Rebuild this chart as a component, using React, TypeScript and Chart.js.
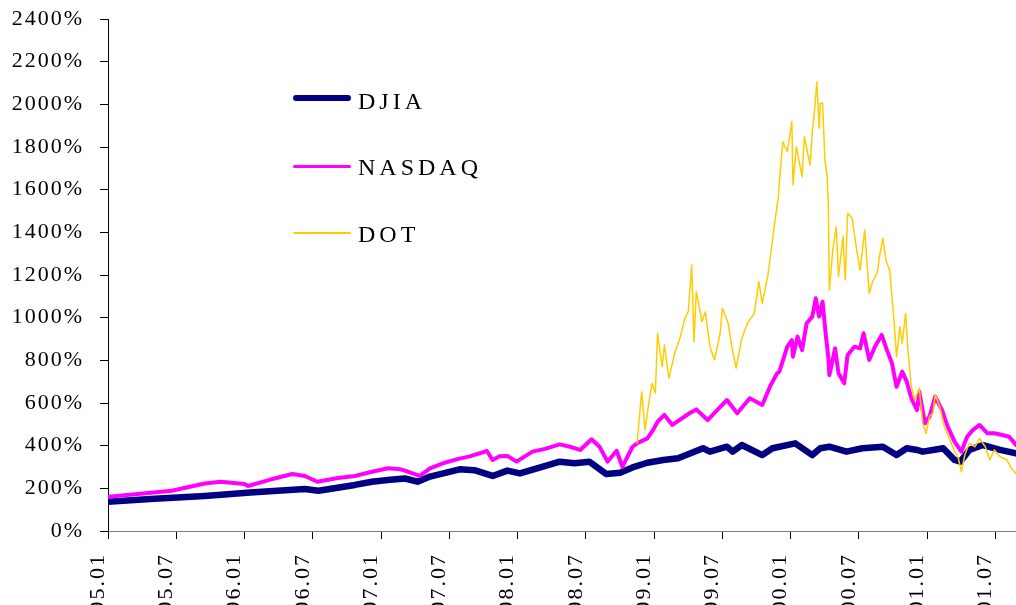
import React, { useEffect, useRef } from 'react';
import { Chart, registerables } from 'chart.js';

Chart.register(...registerables);

// x = months since January 1995
const tickMonths = [0, 6, 12, 18, 24, 30, 36, 42, 48, 54, 60, 66, 72, 78];
const tickLabels = ['95.01', '95.07', '96.01', '96.07', '97.01', '97.07', '98.01', '98.07', '99.01', '99.07', '00.01', '00.07', '01.01', '01.07'];
const xMax = 79.8;

const yMin = 0;
const yMax = 2400;
const yStep = 200;

const seriesNames = ['DJIA', 'NASDAQ', 'DOT'];
const seriesColors = ['#000080', '#FF00FF', '#FFCC00'];
const seriesWidths = [6.5, 4, 1.5];
const legendWidths = [6, 3, 2];

const djiaMonths = [0, 3.7, 8.5, 12.5, 17.3, 18.5, 21.7, 23.2, 24.8, 26.1, 27.2, 28.3, 30.9, 32.2, 33.8, 35.1, 36.2, 38, 39.7, 41, 42.3, 43.8, 45, 46.1, 47.4, 48.8, 50.1, 52.3, 52.9, 54.4, 54.9, 55.7, 57.5, 58.4, 60.4, 61.9, 62.6, 63.4, 64.9, 66.3, 68.1, 69.3, 70.2, 71.1, 71.6, 72.5, 73.4, 74.4, 74.9, 75.7, 76.9, 78.4, 79.8];
const djiaValues = [137, 150, 164, 180, 197, 189, 216, 231, 240, 246, 231, 255, 289, 285, 258, 283, 270, 298, 325, 318, 325, 267, 273, 298, 320, 333, 341, 388, 372, 395, 372, 403, 356, 388, 411, 356, 388, 395, 372, 388, 395, 356, 388, 380, 372, 380, 388, 333, 325, 380, 403, 380, 364];

const nasdaqMonths = [0, 1.9, 5.6, 8.5, 9.9, 12, 12.3, 14.2, 16.2, 17.3, 18.4, 20.2, 21.7, 23.2, 24.6, 25.7, 26.1, 27.4, 28.3, 29.6, 30.7, 31.8, 33.3, 33.8, 34.4, 35.1, 35.9, 37.3, 38.4, 39.7, 40.6, 41.5, 42.5, 43.2, 43.9, 44.7, 45.2, 46.1, 46.5, 47.4, 47.9, 48.3, 48.9, 49.6, 51.1, 51.7, 52.7, 53.6, 54.4, 55.3, 56.4, 57.5, 58.2, 58.8, 59, 59.7, 60.1, 60.2, 60.6, 61, 61.4, 61.9, 62.2, 62.5, 62.8, 63.1, 63.3, 63.4, 63.9, 64.2, 64.7, 65, 65.6, 66.1, 66.4, 66.9, 67.4, 68, 68.4, 68.9, 69.3, 69.8, 70.2, 70.6, 71.1, 71.3, 71.8, 72.2, 72.7, 73.3, 73.8, 74.4, 75, 75.5, 76, 76.6, 77.3, 77.9, 78.6, 79.2, 79.8];
const nasdaqValues = [161, 170, 189, 223, 231, 220, 211, 240, 267, 258, 231, 248, 258, 278, 294, 289, 283, 258, 294, 320, 337, 350, 375, 333, 350, 352, 325, 372, 385, 406, 395, 380, 430, 395, 325, 376, 301, 395, 411, 434, 473, 512, 544, 497, 552, 570, 520, 570, 614, 552, 622, 591, 680, 739, 747, 864, 895, 817, 911, 848, 974, 1005, 1091, 1005, 1075, 911, 817, 731, 856, 739, 692, 825, 864, 856, 927, 802, 864, 919, 856, 786, 676, 747, 700, 622, 567, 653, 505, 536, 630, 567, 489, 419, 372, 442, 473, 497, 458, 458, 450, 442, 403];

const dotMonths = [46.5, 46.9, 47.2, 47.4, 47.8, 48.1, 48.3, 48.7, 48.9, 49.3, 49.8, 50.3, 50.7, 51, 51.3, 51.5, 51.7, 52.2, 52.5, 52.9, 53.3, 53.8, 54, 54.5, 54.8, 55.2, 55.7, 56.2, 56.8, 57.2, 57.5, 58, 58.3, 58.6, 58.9, 59.3, 59.7, 60.1, 60.2, 60.5, 61, 61.2, 61.7, 61.9, 62.1, 62.3, 62.5, 62.6, 62.8, 63, 63.2, 63.3, 63.4, 63.7, 64, 64.2, 64.6, 64.8, 65, 65.4, 65.8, 66.1, 66.5, 66.9, 67.2, 67.6, 67.8, 68.1, 68.4, 68.7, 69.1, 69.3, 69.6, 69.8, 70.1, 70.3, 70.6, 70.9, 71.3, 71.6, 71.9, 72.2, 72.5, 72.7, 73.1, 73.5, 74, 74.4, 74.7, 75, 75.3, 75.7, 76.2, 76.6, 77.1, 77.5, 77.9, 78.4, 79, 79.4, 79.8];
const dotValues = [412, 653, 473, 552, 692, 647, 927, 770, 872, 716, 833, 911, 997, 1028, 1247, 887, 1122, 981, 1028, 864, 802, 927, 1044, 974, 872, 763, 903, 974, 1020, 1169, 1067, 1200, 1322, 1450, 1560, 1825, 1778, 1919, 1622, 1802, 1661, 1848, 1716, 1872, 1973, 2106, 1888, 2005, 2005, 1747, 1661, 1536, 1130, 1317, 1426, 1192, 1380, 1177, 1489, 1466, 1317, 1223, 1411, 1114, 1169, 1209, 1286, 1372, 1262, 1223, 974, 817, 958, 880, 1020, 848, 676, 614, 669, 505, 458, 536, 552, 638, 583, 489, 427, 372, 348, 278, 356, 411, 395, 434, 395, 333, 380, 348, 333, 294, 270];

const seriesMonths = [djiaMonths, nasdaqMonths, dotMonths];
const seriesValues = [djiaValues, nasdaqValues, dotValues];

const FONT = "'Liberation Serif', 'Times New Roman', Times, serif";

const spacingPlugin = {
  id: 'letterSpacing',
  beforeDraw(chart: any) {
    chart.ctx.letterSpacing = '2px';
  },
};

export default function App() {
  const ref = useRef<HTMLCanvasElement>(null);

  useEffect(() => {
    const canvas = ref.current;
    if (!canvas) return;
    const datasets = seriesNames.map((name, i) => ({
      label: name,
      data: seriesMonths[i].map((m, j) => ({ x: m, y: seriesValues[i][j] })),
      borderColor: seriesColors[i],
      backgroundColor: seriesColors[i],
      borderWidth: seriesWidths[i],
      pointRadius: 0,
      pointHoverRadius: 0,
      tension: 0,
      fill: false,
      borderJoinStyle: 'round' as const,
      borderCapStyle: 'round' as const,
      order: seriesNames.length - i,
    }));
    const chart = new Chart(canvas, {
      type: 'line',
      data: { datasets },
      plugins: [spacingPlugin],
      options: {
        animation: false,
        responsive: false,
        devicePixelRatio: 1,
        layout: { padding: { top: 19, right: 0, bottom: 0, left: 0 } },
        plugins: {
          legend: { display: false },
          tooltip: { enabled: false },
        },
        font: { family: FONT, size: 22 },
        scales: {
          x: {
            type: 'linear',
            min: 0,
            max: xMax,
            afterBuildTicks: (scale: any) => {
              scale.ticks = tickMonths.map((v) => ({ value: v }));
            },
            afterFit: (scale: any) => {
              scale.height = 74;
              scale.paddingLeft = 0;
              scale.paddingRight = 0;
              scale.paddingTop = 0;
              scale.paddingBottom = 0;
            },
            grid: {
              drawOnChartArea: false,
              drawTicks: true,
              tickLength: 8,
              color: '#000000',
            },
            border: { display: true, color: '#808080', width: 1 },
            ticks: {
              autoSkip: false,
              maxRotation: 90,
              minRotation: 90,
              padding: 14,
              labelOffset: -10,
              color: '#000000',
              font: { family: FONT, size: 22 },
              callback: (value: any) => {
                const idx = tickMonths.indexOf(Number(value));
                return idx >= 0 ? tickLabels[idx] : '';
              },
            },
          },
          y: {
            type: 'linear',
            min: yMin,
            max: yMax,
            afterFit: (scale: any) => {
              scale.width = 108;
              scale.paddingTop = 0;
              scale.paddingBottom = 0;
              scale.paddingLeft = 0;
              scale.paddingRight = 0;
            },
            grid: {
              drawOnChartArea: false,
              drawTicks: true,
              tickLength: 8,
              color: '#000000',
            },
            border: { display: true, color: '#000000', width: 1 },
            ticks: {
              stepSize: yStep,
              padding: 16,
              color: '#000000',
              font: { family: FONT, size: 22 },
              callback: (value: any) => `${value}%`,
            },
          },
        },
      },
    });
    return () => chart.destroy();
  }, []);

  const legendTops = [89, 155, 222];
  const lineCenters = [98, 166, 233];

  return (
    <div style={{ position: 'fixed', left: 0, top: 0, width: 1016, height: 605, background: '#ffffff', overflow: 'hidden' }}>
      <canvas ref={ref} width={1016} height={605} style={{ display: 'block', width: 1016, height: 605 }} />
      {seriesNames.map((name, i) => (
        <React.Fragment key={name}>
          <div
            style={{
              position: 'absolute',
              left: 293,
              width: 58,
              top: lineCenters[i] - legendWidths[i] / 2,
              height: legendWidths[i],
              background: seriesColors[i],
              borderRadius: legendWidths[i] / 2,
            }}
          />
          <div
            style={{
              position: 'absolute',
              left: 358,
              top: legendTops[i],
              fontFamily: FONT,
              fontSize: 24,
              lineHeight: '24px',
              letterSpacing: '4px',
              color: '#000000',
              whiteSpace: 'nowrap',
            }}
          >
            {name}
          </div>
        </React.Fragment>
      ))}
    </div>
  );
}
